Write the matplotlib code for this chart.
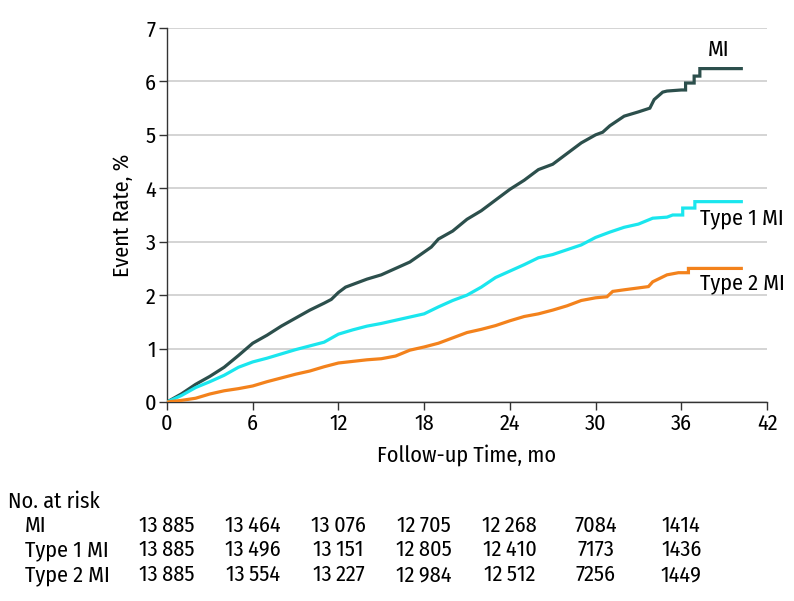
import matplotlib
matplotlib.use("Agg")
import matplotlib.pyplot as plt
import matplotlib.transforms as mtransforms

plt.rcParams['font.family'] = ['Fira Sans Condensed', 'DejaVu Sans']

# ---- data ----
mi_t = [0, 1, 2, 3, 4, 5, 6, 7, 8, 9, 10, 11, 11.5, 12, 12.5, 13, 14, 15, 16, 17, 17.7, 18.5, 19, 20,
        21, 22, 23, 24, 25, 26, 27, 28, 29, 30, 30.5, 31, 32, 33, 33.8, 34.1, 34.7, 35, 36.0, 36.3, 36.3,
        36.9, 36.9, 37.3, 37.3, 40.2]
mi_y = [0, 0.15, 0.33, 0.48, 0.65, 0.87, 1.10, 1.25, 1.42, 1.57, 1.72, 1.85, 1.92, 2.05, 2.15, 2.20, 2.30,
        2.38, 2.50, 2.62, 2.75, 2.90, 3.05, 3.20, 3.42, 3.58, 3.78, 3.98, 4.15, 4.35, 4.45, 4.65, 4.85, 5.00,
        5.05, 5.17, 5.35, 5.43, 5.50, 5.66, 5.80, 5.82, 5.84, 5.84, 5.97, 5.97, 6.10, 6.10, 6.24, 6.24]

t1_t = [0, 1, 2, 3, 4, 5, 6, 7, 8, 9, 10, 11, 12, 13, 14, 15, 16, 17, 18, 19, 20, 21, 22, 23, 24, 25, 26,
        27, 28, 29, 30, 31, 32, 33, 34, 35, 35.4, 36.1, 36.1, 36.95, 36.95, 40.2]
t1_y = [0, 0.12, 0.27, 0.38, 0.50, 0.65, 0.75, 0.82, 0.90, 0.98, 1.05, 1.12, 1.27, 1.35, 1.42, 1.47, 1.53,
        1.59, 1.65, 1.78, 1.90, 2.00, 2.15, 2.33, 2.45, 2.57, 2.70, 2.76, 2.85, 2.94, 3.08, 3.18, 3.27, 3.33,
        3.44, 3.46, 3.50, 3.50, 3.63, 3.63, 3.75, 3.75]

t2_t = [0, 1, 2, 3, 4, 5, 6, 7, 8, 9, 10, 11, 12, 13, 14, 15, 16, 17, 18, 19, 20, 21, 22, 23, 24, 25, 26,
        27, 28, 29, 30, 30.8, 31.2, 32, 33.7, 34, 35, 35.8, 36.5, 36.5, 40.2]
t2_y = [0, 0.03, 0.07, 0.15, 0.21, 0.25, 0.30, 0.38, 0.45, 0.52, 0.58, 0.66, 0.73, 0.76, 0.79, 0.81, 0.86,
        0.97, 1.03, 1.10, 1.20, 1.30, 1.36, 1.43, 1.52, 1.60, 1.65, 1.72, 1.80, 1.90, 1.95, 1.97, 2.07, 2.10,
        2.16, 2.25, 2.38, 2.42, 2.42, 2.50, 2.50]

risk_times = [0, 6, 12, 18, 24, 30, 36]
risk_labels = ["MI", "Type 1 MI", "Type 2 MI"]
risk_mi = ["13\u2009885", "13\u2009464", "13\u2009076", "12\u2009705", "12\u2009268", "7084", "1414"]
risk_t1 = ["13\u2009885", "13\u2009496", "13\u2009151", "12\u2009805", "12\u2009410", "7173", "1436"]
risk_t2 = ["13\u2009885", "13\u2009554", "13\u2009227", "12\u2009984", "12\u2009512", "7256", "1449"]

c_mi = "#2c4f4c"
c_t1 = "#1ae6ee"
c_t2 = "#f3821c"

FS = 16
W, H = 794, 601
fig = plt.figure(figsize=(W / 100, H / 100), dpi=100)
ax = fig.add_axes([167 / W, 1 - 402 / H, 600 / W, 374 / H])

ax.plot(mi_t, mi_y, color=c_mi, lw=2.3, solid_joinstyle='miter', zorder=3)
ax.plot(t1_t, t1_y, color=c_t1, lw=2.3, solid_joinstyle='miter', zorder=3)
ax.plot(t2_t, t2_y, color=c_t2, lw=2.3, solid_joinstyle='miter', zorder=3)

ax.set_xlim(0, 42)
ax.set_ylim(0, 7)
ax.set_xticks(range(0, 43, 6))
ax.set_yticks(range(0, 8))
ax.yaxis.grid(True, color="#d4d4d4", lw=1.4)
ax.set_axisbelow(True)
for s in ["top", "right"]:
    ax.spines[s].set_visible(False)
for s in ["left", "bottom"]:
    ax.spines[s].set_color("#333333")
    ax.spines[s].set_linewidth(1.0)
ax.tick_params(direction="out", length=6, width=1, color="#333333", labelsize=FS, pad=2)
ax.set_xlabel("Follow-up Time, mo", fontsize=FS, labelpad=7)
ax.set_ylabel("Event Rate, %", fontsize=FS, labelpad=8)

ax.text(38.6, 6.6, "MI", fontsize=FS, ha="center", va="center")
ax.text(37.3, 3.44, "Type 1 MI", fontsize=FS, ha="left", va="center")
ax.text(37.3, 2.23, "Type 2 MI", fontsize=FS, ha="left", va="center")

# risk table
trans = mtransforms.blended_transform_factory(ax.transData, fig.transFigure)
fig.text(8 / W, 1 - 508 / H, "No. at risk", fontsize=FS, ha="left", va="baseline")
rows_y = [532, 556, 581]
for lab, vals, yy in zip(risk_labels, [risk_mi, risk_t1, risk_t2], rows_y):
    fig.text(25 / W, 1 - yy / H, lab, fontsize=FS, ha="left", va="baseline")
    for t, v in zip(risk_times, vals):
        ax.text(t, 1 - yy / H, v, transform=trans, fontsize=FS, ha="center", va="baseline", clip_on=False)

fig.savefig("out.png", dpi=100)
